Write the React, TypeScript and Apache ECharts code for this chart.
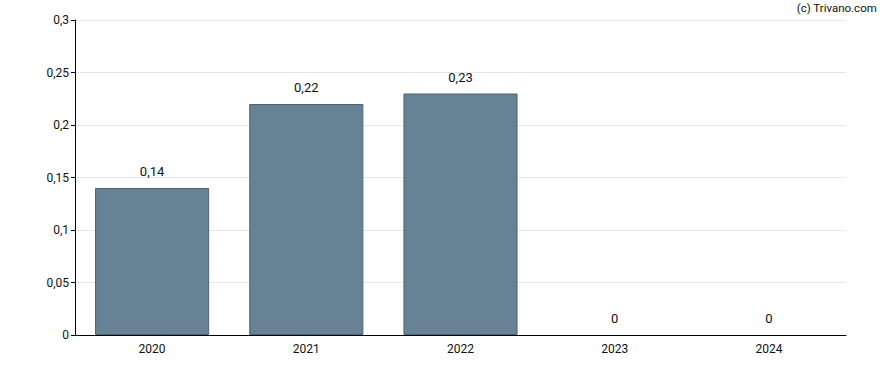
import React, { useEffect, useRef } from "react";
import * as echarts from "echarts";

const categories = ["2020", "2021", "2022", "2023", "2024"];
const values = [0.14, 0.22, 0.23, 0, 0];

const fmt = (v: number) => String(v).replace(".", ",");

export default function App() {
  const ref = useRef<HTMLDivElement>(null);
  useEffect(() => {
    const chart = echarts.init(ref.current!, null, { renderer: "svg" });
    chart.setOption({
      animation: false,
      textStyle: { fontFamily: "Roboto" },
      grid: { left: 75, right: 42, top: 20, bottom: 35 },
      graphic: [
        {
          type: "text",
          right: 11,
          top: 2,
          style: { text: "(c) Trivano.com", font: "11.5px Roboto", fill: "#111" },
        },
      ],
      xAxis: {
        type: "category",
        data: categories,
        axisLine: { lineStyle: { color: "#000", width: 1 } },
        axisTick: { alignWithLabel: true, length: 5, lineStyle: { color: "#000" } },
        axisLabel: { color: "#111", fontSize: 12, margin: 8 },
      },
      yAxis: {
        type: "value",
        min: 0,
        max: 0.3,
        interval: 0.05,
        axisLine: { show: true, lineStyle: { color: "#000" } },
        axisTick: { show: true, length: 4, lineStyle: { color: "#000" } },
        axisLabel: { color: "#111", fontSize: 12, margin: 6, formatter: (v: number) => fmt(Number(v.toFixed(2))) },
        splitLine: { lineStyle: { color: "#e6e6e6" } },
      },
      series: [
        {
          type: "bar",
          data: values.map((v) => ({
            value: v,
            itemStyle: { borderWidth: v === 0 ? 0 : 1 },
          })),
          barCategoryGap: "26%",
          itemStyle: { color: "#668294", borderColor: "#4a6478", borderWidth: 1 },
          label: {
            show: true,
            position: "top",
            distance: 10,
            color: "#111",
            fontSize: 13,
            formatter: (p: any) => fmt(p.value),
          },
        },
      ],
    });
    return () => chart.dispose();
  }, []);
  return <div ref={ref} style={{ position: "absolute", left: 0, top: 0, width: 888, height: 370 }} />;
}
